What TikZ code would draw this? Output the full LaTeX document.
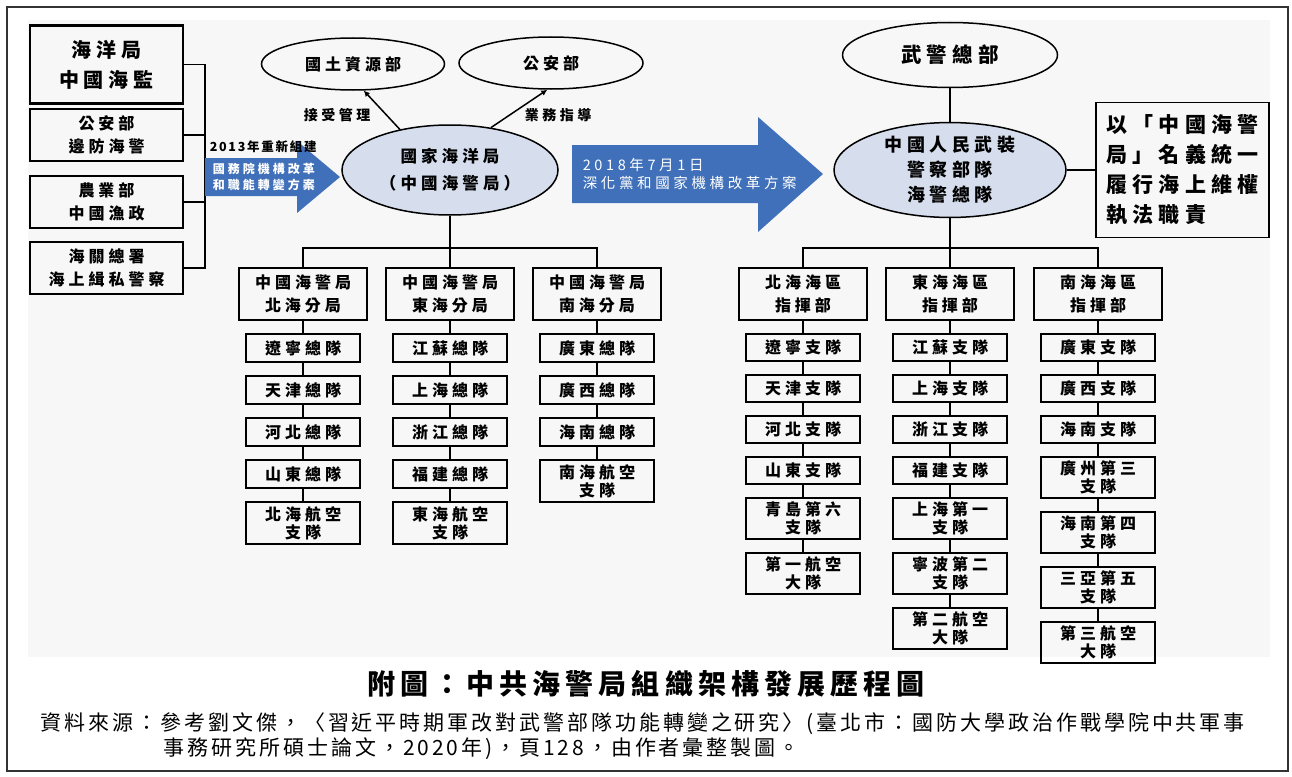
\documentclass[tikz,border=0pt]{standalone}
\usepackage{fontspec}
\setmainfont{Noto Sans CJK TC}
\newfontfamily\wide[LetterSpace=25]{Noto Sans CJK TC}
\newfontfamily\titlefont[LetterSpace=18]{Noto Sans CJK TC}
\newfontfamily\tight[LetterSpace=14]{Noto Sans CJK TC}
\usetikzlibrary{shapes.geometric,positioning,arrows.meta}
\definecolor{arrowblue}{RGB}{64,112,185}
\definecolor{ovalblue}{RGB}{214,222,238}
\definecolor{panelgray}{RGB}{247,247,247}

\begin{document}
\begin{tikzpicture}[x=1pt,y=-1pt,line width=1.5pt,
  box/.style={draw,minimum width=114pt,minimum height=28pt,inner sep=0pt,align=center,font=\wide\bfseries\fontsize{16}{18}\selectfont},
  hbox/.style={box,minimum width=128pt,minimum height=52pt,font=\wide\bfseries\fontsize{16}{23}\selectfont},
  lbox/.style={box,minimum width=153pt,minimum height=52pt,font=\wide\bfseries\fontsize{16}{23}\selectfont},
  oval/.style={ellipse,draw,inner sep=0pt,align=center,font=\wide\bfseries\fontsize{16}{18}\selectfont},
  lab/.style={font=\wide\bfseries\fontsize{14}{15}\selectfont},
  intxt/.style={text=white,align=left,anchor=west,inner sep=0pt}]
\useasboundingbox (0,0) rectangle (1292,776);
\fill[panelgray] (28,20) rectangle (1270,657);
\draw[line width=2pt,black!80] (7,7) rectangle (1288,771);

% the four forces merged in 2013
\node[lbox,minimum height=78pt,line width=2.2pt,font=\wide\bfseries\fontsize{20}{30}\selectfont] (m1) at (106.5,64.5) {海洋局\\中國海監};
\node[lbox] (m2) at (106.5,135) {公安部\\邊防海警};
\node[lbox] (m3) at (106.5,202) {農業部\\中國漁政};
\node[lbox] (m4) at (106.5,268) {海關總署\\海上緝私警察};
\coordinate (brk) at (205,177);
\draw (m1) -- (m1 -| brk) -- (m4 -| brk) -- (m4);
\draw (m2) -- (m2 -| brk) (m3) -- (m3 -| brk);

% big arrows
\fill[arrowblue] (205,158) -- (297,158) -- (297,141) -- (340,177) -- (297,213) -- (297,196) -- (205,196) -- cycle;
\fill[arrowblue] (572,145) -- (758,145) -- (758,117) -- (823,174) -- (758,232) -- (758,203) -- (572,203) -- cycle;
\node[anchor=west,inner sep=0pt,font=\tight\bfseries\fontsize{12.5}{14}\selectfont] (yr13) at (209,147) {2013年重新組建};
\node[intxt,font=\wide\bfseries\fontsize{12}{16}\selectfont] (a13) at (212,177) {國務院機構改革\\和職能轉變方案};
\node[intxt,font=\wide\fontsize{14.5}{18}\selectfont] (a18) at (582,174) {2018年7月1日\\深化黨和國家機構改革方案};

% 2013
\node[oval,fill=ovalblue,minimum width=216pt,minimum height=90pt,font=\wide\bfseries\fontsize{16.5}{27}\selectfont] (soa) at (450,170) {國家海洋局\\（中國海警局）};
\node[oval,minimum width=183pt,minimum height=52pt] (gt) at (353,64) {國土資源部};
\node[oval,minimum width=184pt,minimum height=52pt] (ga) at (551,63) {公安部};
\draw[-{Latex[length=6pt,width=6pt]}] (soa.141) -- (gt.292);
\draw[-{Latex[length=6pt,width=6pt]}] (soa.46) -- (ga.262);
\node[lab] (jsgl) at (337,115) {接受管理};
\node[lab] (ywzd) at (558,115) {業務指導};

\coordinate (lbus) at (450,248);
\node[hbox] (bh0) at (303,294) {中國海警局\\北海分局};
\node[hbox] (dh0) at (450,294) {中國海警局\\東海分局};
\node[hbox] (nh0) at (597,294) {中國海警局\\南海分局};
\draw (soa) -- (lbus) -- (dh0);
\draw (bh0) |- (lbus) -| (nh0);
\foreach \t/\h [count=\i, remember=\i as \j (initially 0)] in {遼寧總隊/28,天津總隊/28,河北總隊/28,山東總隊/28,{北海航空\\支隊}/42}{
  \node[box,minimum height=\h pt,below=12.5pt of bh\j] (bh\i) {\t};
  \draw (bh\j) -- (bh\i);
}
\foreach \t/\h [count=\i, remember=\i as \j (initially 0)] in {江蘇總隊/28,上海總隊/28,浙江總隊/28,福建總隊/28,{東海航空\\支隊}/42}{
  \node[box,minimum height=\h pt,below=12.5pt of dh\j] (dh\i) {\t};
  \draw (dh\j) -- (dh\i);
}
\foreach \t/\h [count=\i, remember=\i as \j (initially 0)] in {廣東總隊/28,廣西總隊/28,海南總隊/28,{南海航空\\支隊}/42}{
  \node[box,minimum height=\h pt,below=12.5pt of nh\j] (nh\i) {\t};
  \draw (nh\j) -- (nh\i);
}

% 2018
\node[oval,minimum width=215pt,minimum height=65pt,font=\wide\bfseries\fontsize{20.5}{22}\selectfont] (wj) at (950,55) {武警總部};
\node[oval,fill=ovalblue,minimum width=232pt,minimum height=90pt,font=\wide\bfseries\fontsize{18}{25}\selectfont] (cg) at (950,170) {中國人民武裝\\警察部隊\\海警總隊};
\node[draw,inner sep=0pt,minimum width=173pt,minimum height=135pt,align=left,font=\wide\bfseries\fontsize{21}{30}\selectfont] (duty) at (1182.5,170) {以「中國海警\\局」名義統一\\履行海上維權\\執法職責};
\draw (wj) -- (cg);
\draw (cg) -- (duty);

\coordinate (rbus) at (950,248);
\node[hbox] (bq0) at (803,294) {北海海區\\指揮部};
\node[hbox] (dq0) at (950,294) {東海海區\\指揮部};
\node[hbox] (nq0) at (1098,294) {南海海區\\指揮部};
\draw (cg) -- (rbus) -- (dq0);
\draw (bq0) |- (rbus) -| (nq0);
\foreach \t/\h [count=\i, remember=\i as \j (initially 0)] in {遼寧支隊/27,天津支隊/27,河北支隊/27,山東支隊/27,{青島第六\\支隊}/41,{第一航空\\大隊}/41}{
  \node[box,minimum height=\h pt,below=12.5pt of bq\j] (bq\i) {\t};
  \draw (bq\j) -- (bq\i);
}
\foreach \t/\h [count=\i, remember=\i as \j (initially 0)] in {江蘇支隊/27,上海支隊/27,浙江支隊/27,福建支隊/27,{上海第一\\支隊}/41,{寧波第二\\支隊}/41,{第二航空\\大隊}/41}{
  \node[box,minimum height=\h pt,below=12.5pt of dq\j] (dq\i) {\t};
  \draw (dq\j) -- (dq\i);
}
\foreach \t/\h [count=\i, remember=\i as \j (initially 0)] in {廣東支隊/27,廣西支隊/27,海南支隊/27,{廣州第三\\支隊}/41,{海南第四\\支隊}/41,{三亞第五\\支隊}/41,{第三航空\\大隊}/41}{
  \node[box,minimum height=\h pt,below=12.5pt of nq\j] (nq\i) {\t};
  \draw (nq\j) -- (nq\i);
}

% caption
\node[font=\titlefont\bfseries\fontsize{28}{30}\selectfont] (ttl) at (646,684) {附圖：中共海警局組織架構發展歷程圖};
\node[anchor=west,inner sep=0pt,font=\tight\fontsize{21}{24}\selectfont] (src1) at (40,724) {資料來源：參考劉文傑，〈習近平時期軍改對武警部隊功能轉變之研究〉(臺北市：國防大學政治作戰學院中共軍事};
\node[anchor=west,inner sep=0pt,font=\tight\fontsize{21}{24}\selectfont] (src2) at (163,749) {事務研究所碩士論文，2020年)，頁128，由作者彙整製圖。};
\end{tikzpicture}
\end{document}
